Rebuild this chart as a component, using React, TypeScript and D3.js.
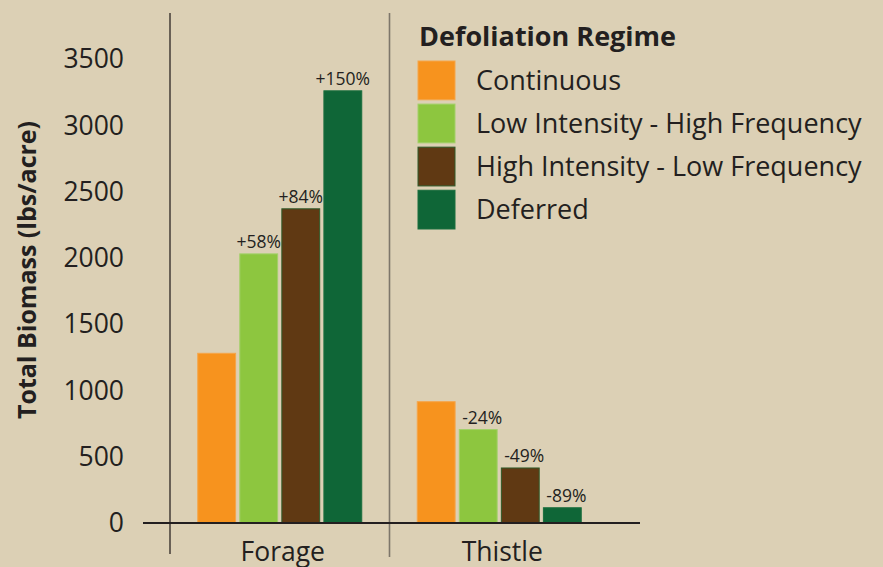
import React from 'react';
import * as d3 from 'd3';

const categories = ['Forage', 'Thistle'];
const regimes = ['Continuous', 'Low Intensity - High Frequency', 'High Intensity - Low Frequency', 'Deferred'];
const forageValues = [1280, 2030, 2370, 3260];
const thistleValues = [915, 705, 415, 115];
const forageLabels = ['', '+58%', '+84%', '+150%'];
const thistleLabels = ['', '-24%', '-49%', '-89%'];
const yTicks = [0, 500, 1000, 1500, 2000, 2500, 3000, 3500];

const colors = ['#F7931E', '#8DC63F', '#603913', '#0F6637'];
const strokes = ['#F5A54A', '#A3D06A', '#2E5A2A', '#1A6E3E'];

const W = 883;
const H = 567;
const font = '"Open Sans", "DejaVu Sans", sans-serif';

const App = () => {
  const seriesByCat = [forageValues, thistleValues];
  const labelsByCat = [forageLabels, thistleLabels];

  // axis geometry
  const y = d3.scaleLinear().domain([0, 3500]).range([523, 59]);
  const x0 = d3.scaleBand().domain(categories).range([170, 609]).padding(0);
  const x1 = d3.scaleBand().domain(regimes).range([0, x0.bandwidth()]).paddingInner(0.1).paddingOuter(0.66);

  // legend
  const legendY = d3.scaleBand().domain(regimes).range([61, 229]).paddingInner(0.1);

  return (
    <svg width={W} height={H} style={{ position: 'absolute', left: 0, top: 0, background: '#DCD0B5' }}>
      <rect width={W} height={H} fill="#DCD0B5" />

      {/* vertical separators */}
      <line x1={170} x2={170} y1={13} y2={554} stroke="#2b2522" strokeWidth={1.3} />
      <line x1={x0('Thistle')} x2={x0('Thistle')} y1={13} y2={557} stroke="#7d766a" strokeWidth={1.6} />

      {/* bars */}
      {categories.map((cat, ci) => (
        <g key={cat} transform={`translate(${x0(cat)},0)`}>
          {seriesByCat[ci].map((v, i) => (
            <rect
              key={regimes[i]}
              x={x1(regimes[i])}
              y={y(v)}
              width={x1.bandwidth()}
              height={y(0) - y(v)}
              fill={colors[i]}
              stroke={strokes[i]}
              strokeWidth={1}
            />
          ))}
          {seriesByCat[ci].map((v, i) =>
            labelsByCat[ci][i] ? (
              <text
                key={'l' + i}
                x={x1(regimes[i])! + x1.bandwidth() / 2 + (ci === 1 ? 4 : 0)}
                y={y(v) - 6}
                textAnchor="middle"
                fontFamily={font}
                fontSize={17.5}
                fill="#231f20"
              >
                {labelsByCat[ci][i]}
              </text>
            ) : null
          )}
        </g>
      ))}

      {/* baseline */}
      <line x1={143} x2={640} y1={y(0)} y2={y(0)} stroke="#231f20" strokeWidth={2.2} />

      {/* y tick labels */}
      {yTicks.map((t) => (
        <text
          key={t}
          x={124}
          y={y(t)}
          dy="0.35em"
          textAnchor="end"
          fontFamily={font}
          fontSize={26.5}
          fill="#231f20"
        >
          {t}
        </text>
      ))}

      {/* category labels */}
      {categories.map((cat) => (
        <text
          key={cat}
          x={x0(cat)! + x0.bandwidth() / 2 + 3}
          y={561}
          textAnchor="middle"
          fontFamily={font}
          fontSize={26.5}
          fill="#231f20"
        >
          {cat}
        </text>
      ))}

      {/* y axis title */}
      <text
        transform="translate(36,270) rotate(-90)"
        textAnchor="middle"
        fontFamily={font}
        fontWeight="bold"
        fontSize={25}
        fill="#231f20"
      >
        Total Biomass (lbs/acre)
      </text>

      {/* legend */}
      <text x={419} y={46} fontFamily={font} fontWeight="bold" fontSize={27} fill="#231f20">
        Defoliation Regime
      </text>
      {regimes.map((r, i) => (
        <g key={r}>
          <rect x={418} y={legendY(r)} width={37} height={legendY.bandwidth()} fill={colors[i]} stroke={strokes[i]} strokeWidth={1} />
          <text
            x={476}
            y={legendY(r)! + legendY.bandwidth() / 2}
            dy="0.35em"
            fontFamily={font}
            fontSize={27}
            fill="#231f20"
          >
            {r}
          </text>
        </g>
      ))}
    </svg>
  );
};

export default App;
